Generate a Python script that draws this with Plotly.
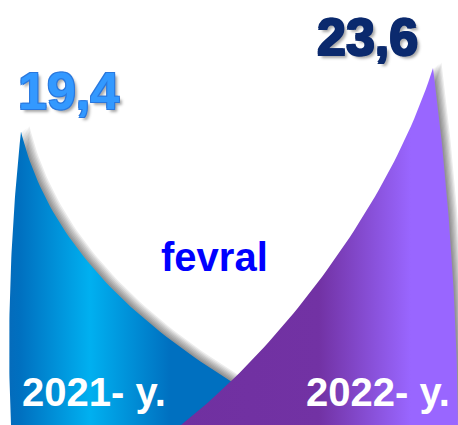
import numpy as np
import plotly.graph_objects as go

# ---- data ----
categories = ["2021- y.", "2022- y."]
values = [19.4, 23.6]
month_title = "fevral"

# ---- style / geometry constants (pixel-like x axis 0..458) ----
W, H = 458, 425
Y_MAX = 28.1
peak_x = [21, 433]
fill_colors = ["#0070C0", "#7030A0"]

def bezier(p0, p1, p2, p3, n=60):
    t = np.linspace(0, 1, n)[:, None]
    p0, p1, p2, p3 = map(np.array, (p0, p1, p2, p3))
    pts = ((1 - t) ** 3) * p0 + 3 * ((1 - t) ** 2) * t * p1 + 3 * (1 - t) * t ** 2 * p2 + t ** 3 * p3
    return pts[:, 0], pts[:, 1]

# normalised edge control points: (dx from peak, fraction of peak height)
shape_edges = [
    dict(left=[(0, 1), (-9, 0.72), (-15, 0.35), (-10, 0)],
         right=[(0, 1), (24, 0.666), (99, 0.324), (289, 0)]),
    dict(left=[(0, 1), (-45, 0.6), (-160, 0.2), (-252, 0)],
         right=[(0, 1), (14, 0.7), (24, 0.35), (25, 0)]),
]

gradients = [
    dict(type="horizontal", start=0, stop=250,
         colorscale=[[0, "#0868B8"], [0.08, "#0070C0"], [0.36, "#00B0F0"],
                     [0.68, "#0070C0"], [1, "#0070C0"]]),
    dict(type="horizontal", start=180, stop=458,
         colorscale=[[0, "#7030A0"], [0.5, "#7232A4"], [0.83, "#9966FF"], [1, "#9966FF"]]),
]

def outline(i, dx=0.0, dy_px=0.0):
    e = shape_edges[i]
    v = values[i]
    lx, lf = bezier(*e["left"])
    rx, rf = bezier(*e["right"])
    xs = np.concatenate([lx[::-1], rx[1:]]) + peak_x[i] + dx
    ys = np.concatenate([lf[::-1], rf[1:]]) * v + dy_px * Y_MAX / H
    return xs, ys

fig = go.Figure()
for i in range(len(values)):
    # soft shadow (offset up-right)
    for k in range(1, 8):
        sx, sy = outline(i, dx=1.2 * k, dy_px=0.8 * k)
        fig.add_trace(go.Scatter(x=sx, y=sy, mode="lines", fill="toself",
                                 line=dict(width=0), fillcolor="rgba(0,0,0,0.075)",
                                 hoverinfo="skip", showlegend=False))
    xs, ys = outline(i)
    fig.add_trace(go.Scatter(x=xs, y=ys, mode="lines", fill="toself",
                             line=dict(width=0, color=fill_colors[i]),
                             fillcolor=fill_colors[i], fillgradient=gradients[i],
                             hoverinfo="skip", showlegend=False))

FONT = "Liberation Sans, Arial, sans-serif"
value_colors = ["#3399FF", "#0B2A6E"]
value_outline = ["#2A78DE", "#0B2A6E"]
value_dx = [47, -66]
value_shift = [41, 31]
for i, v in enumerate(values):
    oc = value_outline[i]
    shadow = (f"-1px -1px 0 {oc}, 1px -1px 0 {oc}, -1px 1px 0 {oc}, 1px 1px 0 {oc}, "
              "3px 3px 3px rgba(0,0,0,0.35)")
    fig.add_annotation(x=peak_x[i] + value_dx[i], y=v, xref="x", yref="y",
                       text=f"{v:.1f}".replace(".", ","), showarrow=False,
                       yanchor="middle", yshift=value_shift[i],
                       font=dict(family=FONT, size=52, color=value_colors[i],
                                 weight="bold", shadow=shadow))

label_x = [94, 378]
for i, c in enumerate(categories):
    fig.add_annotation(x=label_x[i], y=0, xref="x", yref="y", text=c,
                       showarrow=False, yanchor="middle", yshift=33,
                       font=dict(family=FONT, size=40, color="white", weight="bold"))

fig.add_annotation(x=214, y=0, xref="x", yref="y", text=month_title, showarrow=False,
                   yanchor="middle", yshift=168,
                   font=dict(family=FONT, size=40, color="#0000FF", weight="bold"))

fig.update_layout(
    width=W, height=H, margin=dict(l=0, r=0, t=0, b=0),
    paper_bgcolor="white", plot_bgcolor="white",
    xaxis=dict(range=[0, W], visible=False, fixedrange=True),
    yaxis=dict(range=[0, Y_MAX], visible=False, fixedrange=True),
    showlegend=False,
)
fig.write_html("out.html", config={"displayModeBar": False},
               post_script="document.body.style.margin='0';document.body.style.overflow='hidden';")
